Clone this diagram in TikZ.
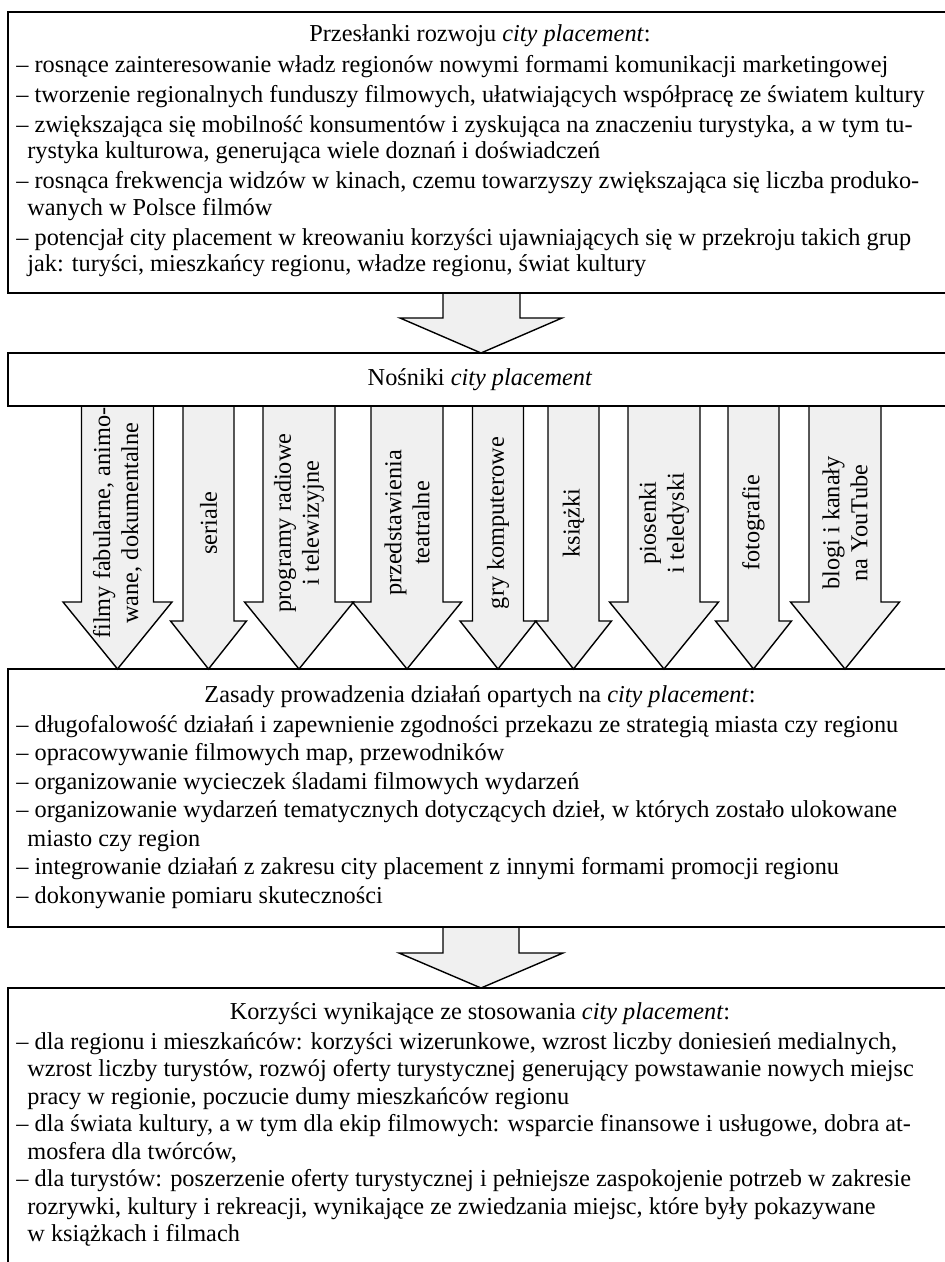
\documentclass[tikz,border=0pt]{standalone}
\usepackage{fontspec}
\setmainfont{Liberation Serif}
\usepackage{tikz}

\begin{document}
\begin{tikzpicture}[x=0.5pt, y=-0.5pt,
    frame/.style={draw, line width=0.9pt},
    blockarrow/.style={draw, line width=0.7pt, fill=black!6, line join=miter},
    headtext/.style={anchor=base, inner sep=0pt, font=\fontsize{12.15}{13.25}\selectfont},
    listtext/.style={anchor=north west, align=left, inner sep=0pt},
    mediatext/.style={rotate=90, align=center, inner sep=0pt, font=\fontsize{12.15}{14}\selectfont}]
    \clip (0,0) rectangle (945,1262);
    % Define coordinates for the four boxes
    \coordinate (premises nw) at (8,12);
    \coordinate (premises se) at (952,293);
    \coordinate (media nw) at (8,353);
    \coordinate (media se) at (952,406);
    \coordinate (rules nw) at (8,669);
    \coordinate (rules se) at (952,927);
    \coordinate (benefits nw) at (8,988);
    \coordinate (benefits se) at (952,1280);

    % Wide arrows between the boxes
    \draw[blockarrow] (443,293) -- (443,318) -- (400,318) -- (481,353) -- (562,318) -- (520,318) -- (520,293);
    \draw[blockarrow] (443,927) -- (443,953) -- (399,953) -- (481,988) -- (563,953) -- (519,953) -- (519,927);

    % Media arrows: centre / half shaft / half head / start of head / label
    \foreach \cx/\sw/\hw/\hy/\lbl [count=\i] in {
        117.5/36/54.5/602/{filmy fabularne, animo-\\wane, dokumentalne},
        208.5/25.5/38/621/{seriale},
        299/36/54.5/602/{programy radiowe\\i telewizyjne},
        407/36/54.5/602/{przedstawienia\\teatralne},
        498/25.5/38/621/{gry komputerowe},
        573.5/25.5/38/621/{książki},
        664/36/54.5/602/{piosenki\\i teledyski},
        753.5/25.5/38/621/{fotografie},
        845/36/54.5/602/{blogi i kanały\\na YouTube}} {
        \draw[blockarrow] ({\cx-\sw},406) -- ({\cx-\sw},\hy) -- ({\cx-\hw},\hy) -- (\cx,669)
            -- ({\cx+\hw},\hy) -- ({\cx+\sw},\hy) -- ({\cx+\sw},406);
        \node[mediatext] (medium \i) at (\cx,523) {\lbl};
    }

    % Boxes
    \draw[frame] (premises nw) rectangle (premises se);
    \draw[frame] (media nw) rectangle (media se);
    \draw[frame] (rules nw) rectangle (rules se);
    \draw[frame] (benefits nw) rectangle (benefits se);

    % Texts
    \node[headtext] (premises title) at (480,42) {Przesłanki rozwoju \textit{city placement}:};
    \node[listtext, font=\fontsize{12.15}{13.25}\selectfont] (premises list) at (16,53.5) {\strut– rosnące zainteresowanie władz regionów nowymi formami komunikacji marketingowej\\[1.75pt]
        – tworzenie regionalnych funduszy filmowych, ułatwiających współpracę ze światem kultury\\[1.75pt]
        – zwiększająca się mobilność konsumentów i zyskująca na znaczeniu turystyka, a w tym tu-\\
        \hspace*{5.5pt}rystyka kulturowa, generująca wiele doznań i doświadczeń\\[1.75pt]
        – rosnąca frekwencja widzów w kinach, czemu towarzyszy zwiększająca się liczba produko-\\
        \hspace*{5.5pt}wanych w Polsce filmów\\[1.75pt]
        – potencjał city placement w kreowaniu korzyści ujawniających się w przekroju takich grup\\
        \hspace*{5.5pt}jak: turyści, mieszkańcy regionu, władze regionu, świat kultury};
    \node[headtext] (media title) at (480,386) {Nośniki \textit{city placement}};
    \node[headtext] (rules title) at (480,702) {Zasady prowadzenia działań opartych na \textit{city placement}:};
    \node[listtext, font=\fontsize{12.15}{14.25}\selectfont] (rules list) at (16,712) {\strut– długofalowość działań i zapewnienie zgodności przekazu ze strategią miasta czy regionu\\
        – opracowywanie filmowych map, przewodników\\
        – organizowanie wycieczek śladami filmowych wydarzeń\\
        – organizowanie wydarzeń tematycznych dotyczących dzieł, w których zostało ulokowane\\
        \hspace*{5.5pt}miasto czy region\\
        – integrowanie działań z zakresu city placement z innymi formami promocji regionu\\
        – dokonywanie pomiaru skuteczności};
    \node[headtext] (benefits title) at (480,1019) {Korzyści wynikające ze stosowania \textit{city placement}:};
    \node[listtext, font=\fontsize{12.15}{13.75}\selectfont] (benefits list) at (16,1029.75) {\strut– dla regionu i mieszkańców: korzyści wizerunkowe, wzrost liczby doniesień medialnych,\\
        \hspace*{5.5pt}wzrost liczby turystów, rozwój oferty turystycznej generujący powstawanie nowych miejsc\\
        \hspace*{5.5pt}pracy w regionie, poczucie dumy mieszkańców regionu\\
        – dla świata kultury, a w tym dla ekip filmowych: wsparcie finansowe i usługowe, dobra at-\\
        \hspace*{5.5pt}mosfera dla twórców,\\
        – dla turystów: poszerzenie oferty turystycznej i pełniejsze zaspokojenie potrzeb w zakresie\\
        \hspace*{5.5pt}rozrywki, kultury i rekreacji, wynikające ze zwiedzania miejsc, które były pokazywane\\
        \hspace*{5.5pt}w książkach i filmach};
\end{tikzpicture}
\end{document}
